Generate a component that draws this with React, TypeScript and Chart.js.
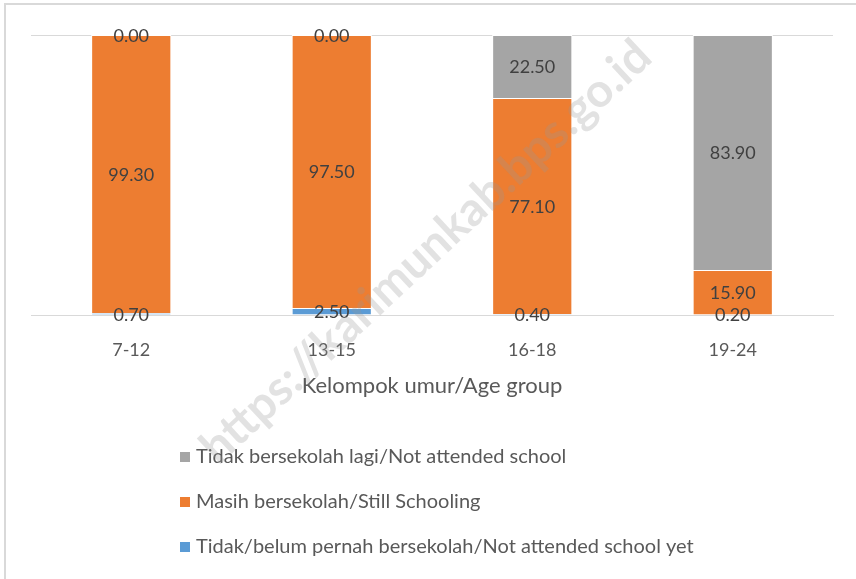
import React, { useEffect, useRef } from "react";
import { Chart, registerables } from "chart.js";

Chart.register(...registerables);

const categories = ["7-12", "13-15", "16-18", "19-24"];
const notYet = [0.7, 2.5, 0.4, 0.2];
const stillSchooling = [99.3, 97.5, 77.1, 15.9];
const notAttended = [0.0, 0.0, 22.5, 83.9];
const seriesNames = [
  "Tidak/belum pernah bersekolah/Not attended school yet",
  "Masih bersekolah/Still Schooling",
  "Tidak bersekolah lagi/Not attended school",
];
const axisTitle = "Kelompok umur/Age group";
const watermark = "https://karimunkab.bps.go.id";

const FONT = "Lato, 'Open Sans', sans-serif";
const TEXT = "#595959";

const overlayPlugin = {
  id: "overlay",
  afterDatasetsDraw(chart: any) {
    const ctx = chart.ctx;
    ctx.save();
    ctx.font = `18px ${FONT}`;
    ctx.fillStyle = "#404040";
    ctx.textAlign = "center";
    ctx.textBaseline = "middle";
    chart.data.datasets.forEach((ds: any, i: number) => {
      const meta = chart.getDatasetMeta(i);
      meta.data.forEach((el: any, j: number) => {
        const v = ds.data[j];
        const y = (el.y + el.base) / 2;
        ctx.fillText(v.toFixed(2), el.x, y + 1);
      });
    });
    ctx.restore();
  },
  afterDraw(chart: any) {
    const ctx = chart.ctx;
    const ca = chart.chartArea;
    ctx.save();
    // frame
    ctx.strokeStyle = "#d9d9d9";
    ctx.lineWidth = 2;
    ctx.strokeRect(5, 4, chart.width, chart.height);
    // legend
    const items = chart.data.datasets.slice().reverse();
    ctx.font = `20px ${FONT}`;
    ctx.textAlign = "left";
    ctx.textBaseline = "middle";
    items.forEach((ds: any, k: number) => {
      const y = 457 + k * 45;
      ctx.fillStyle = ds.backgroundColor;
      ctx.fillRect(180, y - 5, 10, 10);
      ctx.fillStyle = TEXT;
      ctx.fillText(ds.label, 196, y);
    });
    // watermark
    const cx = (ca.left + ca.right) / 2 - 6;
    ctx.translate(cx, 252);
    ctx.rotate(-0.75);
    ctx.font = `bold 47px ${FONT}`;
    ctx.textAlign = "center";
    ctx.fillStyle = "rgba(150,150,150,0.28)";
    ctx.fillText(watermark, 0, 0);
    ctx.restore();
  },
};

export default function App() {
  const ref = useRef<HTMLCanvasElement>(null);
  useEffect(() => {
    document.body.style.margin = "0";
    const chart = new Chart(ref.current!, {
      type: "bar",
      data: {
        labels: categories,
        datasets: [
          { label: seriesNames[0], data: notYet, backgroundColor: "#5B9BD5" },
          { label: seriesNames[1], data: stillSchooling, backgroundColor: "#ED7D31" },
          { label: seriesNames[2], data: notAttended, backgroundColor: "#A5A5A5" },
        ].map((d) => ({ ...d, borderColor: "#ffffff", borderWidth: 1, categoryPercentage: 1, barPercentage: 0.4 })),
      },
      options: {
        animation: false,
        responsive: false,
        layout: { padding: { left: 31, right: 23, top: 35, bottom: 160 } },
        plugins: { legend: { display: false }, tooltip: { enabled: false } },
        scales: {
          x: {
            stacked: true,
            grid: { display: false, drawTicks: false },
            border: { color: "#d9d9d9", width: 1 },
            ticks: { color: TEXT, font: { family: FONT, size: 18 }, padding: 24 },
            title: { display: true, text: axisTitle, color: TEXT, font: { family: FONT, size: 22 }, padding: { top: -12, bottom: 20 } },
          },
          y: {
            stacked: true,
            min: 0,
            max: 100,
            ticks: { display: false, stepSize: 100 },
            grid: { color: "#d9d9d9", drawTicks: false },
            border: { display: false },
          },
        },
      },
      plugins: [overlayPlugin],
    });
    return () => chart.destroy();
  }, []);
  return <canvas ref={ref} width={856} height={579} style={{ display: "block" }} />;
}
